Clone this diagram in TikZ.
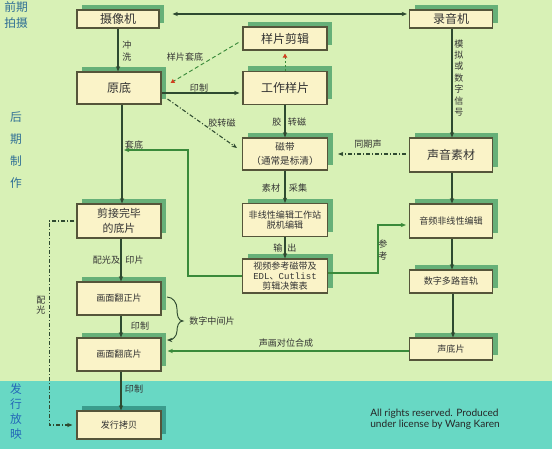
\documentclass[tikz,border=0pt]{standalone}
\usepackage{fontspec}
\setmainfont{Noto Sans CJK SC}
\newfontfamily\latfont{Lato}
\newfontfamily\monofont{Liberation Mono}
\usetikzlibrary{arrows.meta,calc}
\definecolor{bgg}{HTML}{D8F1B6}
\definecolor{bgt}{HTML}{68D8C4}
\definecolor{boxf}{HTML}{FAF3C8}
\definecolor{boxd}{HTML}{55553A}
\definecolor{shg}{HTML}{66B078}
\definecolor{sht}{HTML}{3A9C8C}
\definecolor{ln}{HTML}{2E4A30}
\definecolor{lg}{HTML}{3A8A3A}
\definecolor{sec}{HTML}{2F6F95}
\definecolor{secb}{HTML}{2468B8}
\definecolor{txt}{HTML}{333333}
\definecolor{redtip}{HTML}{D04020}
\tikzset{
  box/.style={draw=boxd, line width=0.8pt, fill=boxf, text=txt, inner sep=0pt, align=center},
  fbig/.style={font=\fontsize{9}{11}\selectfont},
  fmid/.style={font=\fontsize{8.2}{11.25}\selectfont},
  fcd/.style={font=\fontsize{7.2}{10.5}\selectfont},
  fsm/.style={font=\fontsize{6.8}{8.2}\selectfont},
  fsp/.style={font=\fontsize{6.8}{7.6}\selectfont},
  lab/.style={font=\fontsize{6.8}{8.6}\selectfont, text=txt, inner sep=0pt, align=center},
  arr/.style={draw=ln, line width=0.8pt, -{Stealth[length=4pt,width=3.2pt]}},
  arrg/.style={arr, draw=lg},
  dashdt/.style={dash pattern=on 3pt off 1.5pt on 0.8pt off 1.5pt},
  redtipped/.style={draw=lg, line width=0.7pt, -{Triangle[length=3pt,width=3.2pt,color=redtip]}},
  seclab/.style={text=sec, inner sep=0pt, align=center},
}
% #1 name, #2 cx, #3 cy, #4 w(px), #5 h(px), #6 font style, #7 shadow colour, #8 text
\newcommand\flowbox[8]{%
  \path[fill=#7] (#2-#4/2+5,#3-#5/2-5) rectangle (#2+#4/2+5,#3+#5/2-5);
  \node[box,#6,minimum width=#4*0.75pt,minimum height=#5*0.75pt] (#1) at (#2,#3) {#8};
}
\begin{document}
\begin{tikzpicture}[x=0.75pt,y=-0.75pt]
\useasboundingbox (0,0) rectangle (552,449);
\fill[bgg] (0,0) rectangle (552,381);
\fill[bgt] (0,381) rectangle (552,449);

% section labels
\node[seclab, font=\fontsize{8.8}{12}\selectfont] (s1) at (16,15) {前期\\拍摄};
\node[seclab, font=\fontsize{8.8}{16.5}\selectfont] (s2) at (16,150) {后\\期\\制\\作};
\node[seclab, text=secb, font=\fontsize{8.8}{11.25}\selectfont] (s3) at (16,411.5) {发\\行\\放\\映};

% boxes
\flowbox{cam}{118}{19}{82}{18}{fbig}{shg}{摄像机}
\flowbox{rec}{451}{19}{83}{18}{fbig}{shg}{录音机}
\flowbox{spjj}{285}{38.5}{84}{23}{fbig}{shg}{样片剪辑}
\flowbox{yd}{119}{88}{84}{32}{fbig}{shg}{原底}
\flowbox{gzyp}{285}{88}{84}{33}{fbig}{shg}{工作样片}
\flowbox{cd}{285}{154}{85}{32}{fcd}{shg}{磁带\\（通常是标清）}
\flowbox{sysc}{451}{155}{83}{34}{fbig}{shg}{声音素材}
\flowbox{fxx}{285}{220}{85}{33}{fsm}{shg}{非线性编辑工作站\\脱机编辑}
\flowbox{spck}{285}{276}{85}{34}{fsp}{shg}{视频参考磁带及\\{\monofont EDL}、{\monofont Cutlist}\\剪辑决策表}
\flowbox{ypfxx}{451}{221}{83}{34}{fsm}{shg}{音频非线性编辑}
\flowbox{szdl}{451}{281.5}{83}{23}{fsm}{shg}{数字多路音轨}
\flowbox{sdp}{451}{349}{83}{22}{fsm}{shg}{声底片}
\flowbox{jjwb}{119}{221}{84}{34}{fmid}{shg}{剪接完毕\\的底片}
\flowbox{hmfz}{119}{298.5}{84}{33}{fsm}{shg}{画面翻正片}
\flowbox{hmfd}{119}{354.5}{84}{33}{fsm}{shg}{画面翻底片}
\flowbox{fxkb}{119}{425}{84}{28}{fsm}{sht}{发行拷贝}

% connectors
\draw[line width=0.8pt, draw=ln, {Stealth[length=4pt,width=3.2pt]}-{Stealth[length=4pt,width=3.2pt]}]
  ($(cam.east)+(13,-5)$) -- ($(rec.west)+(-2,-5)$);

\draw[arr] (cam.south) -- (cam.south |- yd.north);
\node[lab, font=\fontsize{6.8}{9}\selectfont] (l1) at (127,51) {冲\\洗};

\draw[redtipped, dash pattern=on 3pt off 2pt] ($(spjj.west)+(-4,4)$) -- ($(yd.east)+(9,-5)$);
\node[lab] (l2) at (185,57) {样片套底};

\draw[arr] ($(yd.east)+(0,5)$) -- ($(gzyp.west)+(-3,5)$);
\node[lab] (l3) at (199,88) {印制};

\draw[arr, dashdt] ($(yd.east)+(6,11)$) -- ($(cd.west)+(-5,-6)$);
\node[lab] (l4) at (222,123) {胶转磁};

\draw[arr] (gzyp.south) -- (cd.north);
\node[lab] (l5a) at (277,122) {胶};
\node[lab] (l5b) at (297,122) {转磁};

\draw[redtipped, dash pattern=on 1.5pt off 1.5pt] (gzyp.north) -- ($(spjj.south)+(0,3)$);

\draw[arr] ($(rec.south)+(1,0)$) -- ($(sysc.north)+(1,0)$);
\node[lab, font=\fontsize{6.8}{8.6}\selectfont] (l6) at (459,78) {模\\拟\\或\\数\\字\\信\\号};

\draw[arr, dashdt] ($(sysc.west)+(-3,-1)$) -- ($(cd.east)+(10,0)$);
\node[lab] (l7) at (368,144) {同期声};

\draw[arr] (cd.south) -- (fxx.north);
\node[lab] (l8a) at (271,188) {素材};
\node[lab] (l8b) at (298,188) {采集};

\draw[arr] (fxx.south) -- (spck.north);
\node[lab] (l9a) at (278,248) {输};
\node[lab] (l9b) at (292,248) {出};

\draw[arr] ($(yd.south)+(3,0)$) -- ($(jjwb.north)+(3,0)$);
\node[lab] (l10) at (134,145) {套底};

\coordinate (j1) at (188,150);
\coordinate (j2) at (124,150);
\draw[arrg] (spck.west) -| (j1) -- (j2);

\coordinate (k1) at (378,225);
\draw[arrg] ($(spck.east)+(0,-3)$) -| (k1) -- ($(ypfxx.west)+(-3,4)$);
\node[lab, font=\fontsize{6.8}{8.6}\selectfont] (l11) at (383,250) {参\\考};

\draw[arr] ($(sysc.south)+(1,0)$) -- ($(ypfxx.north)+(1,0)$);
\draw[arr] ($(ypfxx.south)+(1,0)$) -- ($(szdl.north)+(1,0)$);
\draw[arr] ($(szdl.south)+(2,0)$) -- ($(sdp.north)+(2,0)$);

\draw[arrg] ($(sdp.west)+(0,2)$) -- ($(hmfd.east)+(6,-3.5)$);
\node[lab] (l12) at (286,343) {声画对位合成};

\draw[arr] ($(jjwb.south)+(2,0)$) -- ($(hmfz.north)+(2,0)$);
\node[lab] (l13a) at (106.5,260) {配光及};
\node[lab] (l13b) at (134.5,260) {印片};

\draw[arr] ($(hmfz.south)+(2,0)$) -- ($(hmfd.north)+(2,0)$);
\node[lab] (l14) at (140,326) {印制};

\coordinate (b1) at (167,297);
\coordinate (b2) at (183,321);
\coordinate (b3) at (167,340);
\draw[arr, line width=0.7pt] (b1) to[out=0,in=90] (177,309) to[out=-90,in=180] (b2)
   to[out=180,in=90] (177,331) to[out=-90,in=0] (b3);
\node[lab] (l15) at (212,321) {数字中间片};

\draw[arr, dashdt] ($(jjwb.west)+(-2,0)$) -- ++(-25,0) |- ($(fxkb.west)+(-4,0)$);
\node[lab, font=\fontsize{6.8}{7.5}\selectfont] (l16) at (41,305) {配\\光};

\draw[arr] ($(hmfd.south)+(2,0)$) -- ($(fxkb.north)+(2,0)$);
\node[lab] (l17) at (134,389) {印制};

\node[anchor=west, inner sep=0pt, align=left, text=black!85, font=\latfont\fontsize{7.6}{8.4}\selectfont] (cp) at (370,419.5) {All rights reserved. Produced\\under license by Wang Karen};
\end{tikzpicture}
\end{document}
